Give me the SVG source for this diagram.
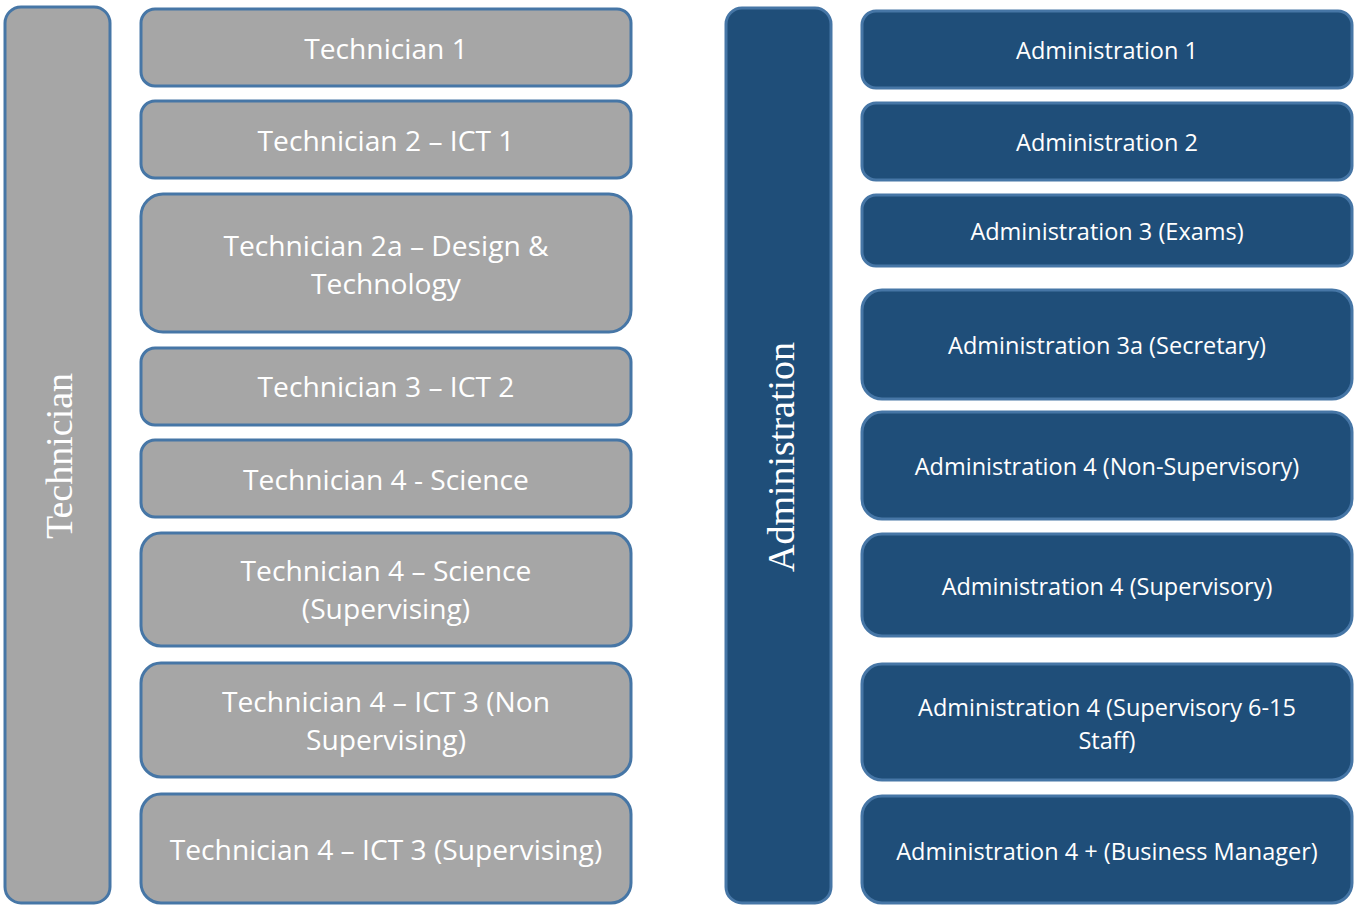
<svg xmlns="http://www.w3.org/2000/svg" width="1357" height="906" viewBox="0 0 1357 906">
<style>
.g{fill:#a6a6a6;stroke:#4676a6;stroke-width:3}
.b{fill:#1f4e79;stroke:#4676a6;stroke-width:3}
.t{fill:#fff;font-family:"Open Sans",sans-serif;font-size:28.2px;text-anchor:middle;dominant-baseline:central}
.a{fill:#fff;font-family:"Open Sans",sans-serif;font-size:23.5px;text-anchor:middle;dominant-baseline:central}
.v{fill:#fff;font-family:"Liberation Serif",serif;font-size:38px;text-anchor:middle;dominant-baseline:central}
</style>
<rect width="1357" height="906" fill="#fff"/>
<g id="technician">
<rect class="g" x="5" y="7" width="105" height="896" rx="16"/>
<text class="v" transform="translate(59 456) rotate(-90)">Technician</text>
</g>
<g id="t1"><rect class="g" x="141" y="9" width="490" height="77" rx="14"/><text class="t" x="386" y="48">Technician 1</text></g>
<g id="t2"><rect class="g" x="141" y="101" width="490" height="77" rx="14"/><text class="t" x="386" y="140">Technician 2 – ICT 1</text></g>
<g id="t2a"><rect class="g" x="141" y="194" width="490" height="138" rx="22"/><text class="t" x="386" y="245">Technician 2a – Design &amp;</text><text class="t" x="386" y="283">Technology</text></g>
<g id="t3"><rect class="g" x="141" y="348" width="490" height="77" rx="14"/><text class="t" x="386" y="386">Technician 3 – ICT 2</text></g>
<g id="t4s"><rect class="g" x="141" y="440" width="490" height="77" rx="14"/><text class="t" x="386" y="479">Technician 4 - Science</text></g>
<g id="t4ss"><rect class="g" x="141" y="533" width="490" height="113" rx="20"/><text class="t" x="386" y="570">Technician 4 – Science</text><text class="t" x="386" y="608">(Supervising)</text></g>
<g id="t4in"><rect class="g" x="141" y="663" width="490" height="114" rx="20"/><text class="t" x="386" y="701">Technician 4 – ICT 3 (Non</text><text class="t" x="386" y="739">Supervising)</text></g>
<g id="t4is"><rect class="g" x="141" y="794" width="490" height="109" rx="20"/><text class="t" x="386" y="849">Technician 4 – ICT 3 (Supervising)</text></g>
<g id="administration">
<rect class="b" x="726" y="8" width="105" height="895" rx="16"/>
<text class="v" transform="translate(781 457) rotate(-90)">Administration</text>
</g>
<g id="a1"><rect class="b" x="862" y="11" width="490" height="77" rx="14"/><text class="a" x="1107" y="50">Administration 1</text></g>
<g id="a2"><rect class="b" x="862" y="103" width="490" height="77" rx="14"/><text class="a" x="1107" y="142">Administration 2</text></g>
<g id="a3"><rect class="b" x="862" y="195" width="490" height="71" rx="14"/><text class="a" x="1107" y="231">Administration 3 (Exams)</text></g>
<g id="a3a"><rect class="b" x="862" y="290" width="490" height="109" rx="20"/><text class="a" x="1107" y="345">Administration 3a (Secretary)</text></g>
<g id="a4ns"><rect class="b" x="862" y="412" width="490" height="107" rx="20"/><text class="a" x="1107" y="466">Administration 4 (Non-Supervisory)</text></g>
<g id="a4s"><rect class="b" x="862" y="534" width="490" height="102" rx="20"/><text class="a" x="1107" y="586">Administration 4 (Supervisory)</text></g>
<g id="a4s615"><rect class="b" x="862" y="664" width="490" height="116" rx="20"/><text class="a" x="1107" y="707">Administration 4 (Supervisory 6-15</text><text class="a" x="1107" y="740">Staff)</text></g>
<g id="a4bm"><rect class="b" x="862" y="796" width="490" height="107" rx="20"/><text class="a" x="1107" y="851">Administration 4 + (Business Manager)</text></g>
<g id="connectors"/>
</svg>
